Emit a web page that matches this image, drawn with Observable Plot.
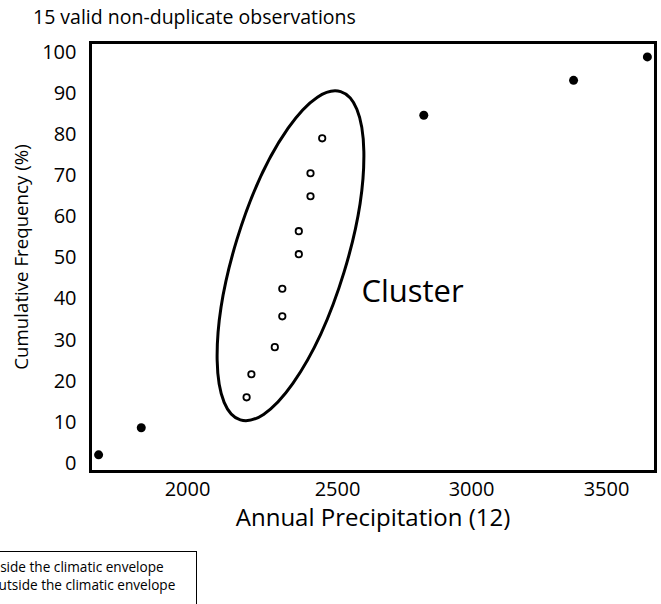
<!DOCTYPE html>
<html>
<head>
<meta charset="utf-8">
<script src="https://cdn.jsdelivr.net/npm/d3@7"></script>
<script src="https://cdn.jsdelivr.net/npm/@observablehq/plot@0.6"></script>
<style>
  html, body { margin: 0; padding: 0; background: #fff; }
  body { width: 661px; height: 604px; overflow: hidden; position: relative; font-family: "Open Sans", sans-serif; color: #000; }
  #title { height: 34px; line-height: 34px; padding-left: 33px; font-size: 19.5px; white-space: nowrap; }
  #chart svg { display: block; }
  #legend { position: absolute; top: 551px; left: -200px; width: 397px; height: 80px; border: 1px solid #000; box-sizing: border-box; background: #fff; font-size: 13.6px; }
  #legend .row { position: absolute; left: 187px; white-space: nowrap; line-height: 18px; }
  #legend .mk { position: absolute; left: -18px; top: 5px; width: 8px; height: 8px; border-radius: 50%; box-sizing: border-box; }
</style>
</head>
<body>
<div id="title">15 valid non-duplicate observations</div>
<div id="chart"></div>
<div id="legend"></div>
<script>
// ---- data ----
const insidePrecip = [2197, 2213, 2291, 2316, 2316, 2371, 2371, 2410, 2410, 2449];
const insideFreq   = [16.1, 21.7, 28.3, 35.8, 42.5, 50.9, 56.5, 65.0, 70.6, 79.1];
const outsidePrecip = [1704, 1846, 2822, 3378, 3651];
const outsideFreq   = [2.1, 8.7, 84.7, 93.2, 98.9];
const xTicks = [2000, 2500, 3000, 3500];
const yTicks = [0, 10, 20, 30, 40, 50, 60, 70, 80, 90, 100];
const xLabel = "Annual Precipitation (12)";
const yLabel = "Cumulative Frequency (%)";
const clusterLabel = ["Cluster"];
const clusterCenter = [{x: 2345, y: 50.4}];
const legendItems = ["Inside the climatic envelope", "Outside the climatic envelope"];

const inside = insidePrecip.map((x, i) => ({x, y: insideFreq[i]}));
const outside = outsidePrecip.map((x, i) => ({x, y: outsideFreq[i]}));

const chart = Plot.plot({
  width: 661,
  height: 500,
  marginLeft: 90,
  marginRight: 6,
  marginTop: 8,
  marginBottom: 63,
  style: {fontFamily: "Open Sans, sans-serif", color: "#000", background: "#fff", overflow: "visible"},
  x: {type: "linear", domain: [1677, 2000, 2500, 3000, 3500, 3681], range: [90, 187, 337, 471, 606, 655]},
  y: {domain: [-1.95, 102.4]},
  marks: [
    Plot.axisX({ticks: xTicks, tickSize: 0, tickPadding: 10, fontSize: 20, label: null, tickFormat: d => String(d)}),
    Plot.axisY({ticks: yTicks, tickSize: 0, tickPadding: 14, fontSize: 20, label: null}),
    Plot.text([xLabel], {frameAnchor: "bottom", dy: 54, fontSize: 24, text: d => d}),
    Plot.text([yLabel], {frameAnchor: "left", textAnchor: "middle", dx: -68, rotate: -90, fontSize: 18.7, text: d => d}),
    (index, scales) => {
      const c = clusterCenter[0];
      const X = scales.x(c.x), Y = scales.y(c.y);
      const el = d3.create("svg:ellipse")
        .attr("cx", 0).attr("cy", 0).attr("rx", 56).attr("ry", 171.6)
        .attr("transform", `translate(${X},${Y}) rotate(17)`)
        .attr("fill", "none").attr("stroke", "#000").attr("stroke-width", 3);
      return el.node();
    },
    Plot.text(clusterLabel, {x: () => 2780, y: () => 41.6, text: d => d, fontSize: 31}),
    Plot.dot(inside, {x: "x", y: "y", r: 3.2, stroke: "#000", strokeWidth: 1.8, fill: "#fff"}),
    Plot.dot(outside, {x: "x", y: "y", r: 4.5, fill: "#000", stroke: "none"}),
    Plot.frame({stroke: "#000", strokeWidth: 3})
  ]
});
document.getElementById("chart").appendChild(chart);

// legend (partially off the left edge, as in the reference)
const legend = document.getElementById("legend");
legendItems.forEach((t, i) => {
  const row = document.createElement("div");
  row.className = "row";
  row.style.top = (6 + i * 18) + "px";
  const mk = document.createElement("span");
  mk.className = "mk";
  if (i === 0) { mk.style.border = "1.5px solid #000"; mk.style.background = "#fff"; }
  else { mk.style.background = "#000"; }
  row.appendChild(mk);
  row.appendChild(document.createTextNode(t));
  legend.appendChild(row);
});
</script>
</body>
</html>
